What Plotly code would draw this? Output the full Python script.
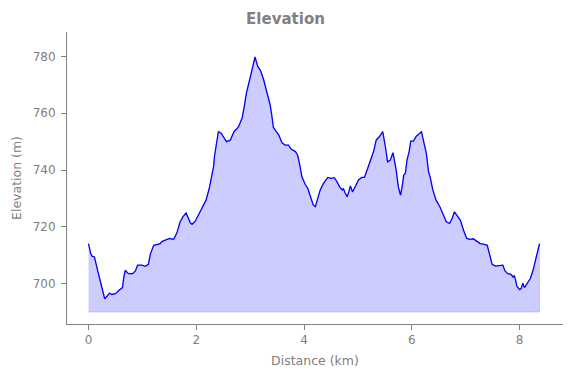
import plotly.graph_objects as go

distance_km = [0.00, 0.04, 0.07, 0.11, 0.16, 0.20, 0.25, 0.30, 0.34, 0.39, 0.43, 0.50, 0.56, 0.63, 0.65, 0.68,
               0.74, 0.82, 0.87, 0.91, 0.99, 1.05, 1.11, 1.15, 1.21, 1.27, 1.33, 1.36, 1.44, 1.50, 1.58, 1.64,
               1.70, 1.75, 1.81, 1.84, 1.89, 1.92, 1.98, 2.07, 2.18, 2.24, 2.29, 2.32, 2.34, 2.37, 2.38, 2.41,
               2.46, 2.51, 2.56, 2.63, 2.70, 2.78, 2.85, 2.89, 2.93, 2.99, 3.05, 3.09, 3.14, 3.19, 3.25, 3.31,
               3.37, 3.40, 3.43, 3.47, 3.53, 3.59, 3.65, 3.71, 3.76, 3.84, 3.88, 3.92, 3.96, 4.02, 4.07, 4.12,
               4.17, 4.21, 4.25, 4.30, 4.36, 4.44, 4.50, 4.56, 4.61, 4.66, 4.71, 4.73, 4.76, 4.80, 4.83, 4.86,
               4.90, 4.95, 5.01, 5.07, 5.12, 5.17, 5.23, 5.29, 5.34, 5.40, 5.46, 5.49, 5.51, 5.55, 5.60, 5.65,
               5.67, 5.71, 5.75, 5.79, 5.82, 5.85, 5.88, 5.91, 5.95, 5.98, 6.03, 6.08, 6.13, 6.18, 6.22, 6.27,
               6.31, 6.34, 6.39, 6.45, 6.52, 6.58, 6.64, 6.70, 6.75, 6.79, 6.86, 6.90, 6.96, 7.02, 7.08, 7.14,
               7.21, 7.27, 7.33, 7.40, 7.44, 7.49, 7.55, 7.63, 7.69, 7.73, 7.78, 7.84, 7.88, 7.90, 7.92, 7.95,
               8.00, 8.03, 8.06, 8.09, 8.14, 8.20, 8.25, 8.29, 8.32, 8.37]

elevation_m = [714.1, 710.6, 709.6, 709.4, 705.3, 702.1, 698.2, 694.7, 695.5, 696.7, 696.2, 696.5, 697.6, 698.6, 701.8, 704.7,
               703.5, 703.5, 704.5, 706.5, 706.5, 706.1, 706.8, 710.6, 713.5, 713.9, 714.1, 714.8, 715.5, 715.9, 715.6, 717.9,
               721.8, 723.5, 724.9, 723.5, 721.4, 720.9, 722.0, 725.3, 729.4, 733.5, 738.8, 741.2, 745.3, 748.5, 750.6, 753.5,
               753.0, 751.5, 750.0, 750.5, 753.5, 755.1, 758.3, 762.4, 767.1, 771.8, 776.5, 779.8, 776.5, 775.1, 771.8, 767.1,
               763.0, 759.4, 755.1, 753.9, 752.4, 749.6, 748.8, 748.8, 747.4, 746.5, 745.3, 741.8, 737.6, 735.0, 733.5, 730.6,
               727.7, 727.1, 729.4, 733.0, 735.3, 737.4, 737.1, 737.3, 735.9, 734.1, 733.0, 733.5, 732.0, 730.6, 732.3, 734.4,
               732.3, 734.1, 736.5, 737.4, 737.4, 740.0, 743.5, 746.5, 750.6, 751.8, 753.5, 750.6, 748.2, 742.9, 743.5, 746.1,
               744.1, 740.0, 734.1, 731.2, 734.1, 738.2, 738.8, 743.5, 746.5, 750.2, 750.2, 751.8, 752.7, 753.5, 750.0, 745.9,
               739.4, 737.6, 733.0, 729.4, 727.1, 724.1, 721.8, 721.2, 723.0, 725.3, 723.5, 722.4, 718.8, 715.9, 715.6, 715.8,
               714.9, 714.1, 713.9, 713.5, 710.6, 706.8, 706.2, 706.5, 706.5, 704.5, 703.5, 703.3, 702.3, 702.9, 701.8, 699.1,
               697.9, 698.3, 700.2, 698.6, 700.0, 701.8, 704.7, 707.6, 710.6, 714.1]

BASELINE = 690
x_ticks = [0, 2, 4, 6, 8]
y_ticks = [700, 720, 740, 760, 780]

GRAY = "#808080"
FONT = "DejaVu Sans"

fig = go.Figure()
fig.add_trace(go.Scatter(
    x=distance_km + distance_km[::-1],
    y=elevation_m + [BASELINE] * len(distance_km),
    fill="toself", fillcolor="rgba(0,0,255,0.2)",
    line=dict(color="rgba(0,0,255,0.15)", width=1),
    mode="lines", hoverinfo="skip", showlegend=False,
))
fig.add_trace(go.Scatter(
    x=distance_km, y=elevation_m, mode="lines",
    line=dict(color="#0000ff", width=1.3), showlegend=False,
))

axis_common = dict(
    showgrid=False, zeroline=False, showline=True, linecolor=GRAY, linewidth=1,
    ticks="outside", ticklen=5, tickcolor=GRAY, tickwidth=1,
    tickfont=dict(family=FONT, size=12, color=GRAY),
)
fig.update_layout(
    width=571, height=378,
    margin=dict(l=67, r=8, t=32, b=54),
    paper_bgcolor="white", plot_bgcolor="white",
    font=dict(family=FONT, color=GRAY),
    title=dict(text="<b>Elevation</b>", font=dict(family=FONT, size=15, color=GRAY),
               x=0.5, xref="container", xanchor="center", y=1 - 18.5 / 378, yanchor="middle"),
    xaxis=dict(range=[-0.40, 8.806], tickvals=x_ticks,
               title=dict(text="Distance (km)", font=dict(family=FONT, size=12.5, color=GRAY), standoff=9),
               **axis_common),
    yaxis=dict(range=[685.8, 788.6], tickvals=y_ticks,
               title=dict(text="Elevation (m)", font=dict(family=FONT, size=12.5, color=GRAY), standoff=8),
               ticklabelstandoff=3,
               **axis_common),
)
fig.write_html("out.html", config={"displayModeBar": False},
               post_script="document.body.style.margin='0';document.body.style.padding='0';")
